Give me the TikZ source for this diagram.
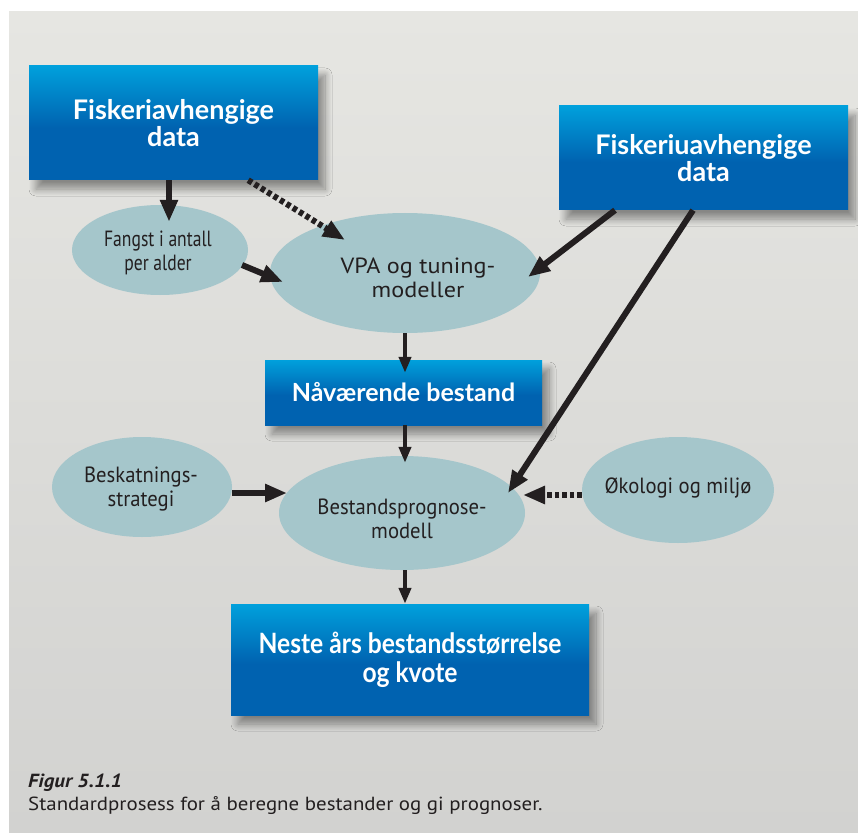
\documentclass[tikz,border=0pt]{standalone}
\usepackage{fontspec}
\setmainfont{Lato}
\newfontfamily\condfont{PT Sans}[FakeStretch=0.8]
\newfontfamily\midfont{PT Sans}[FakeStretch=0.94]
\newfontfamily\widefont{PT Sans}[FakeStretch=1.1]
\newfontfamily\capfont{PT Sans}[FakeStretch=1.1]
\newfontfamily\boxcond{Lato}[FakeStretch=0.88]
\usetikzlibrary{arrows.meta,shapes.geometric,calc,shadows.blur}
\definecolor{bgtop}{HTML}{E6E6E2}
\definecolor{bgbot}{HTML}{D2D2D0}
\definecolor{blight}{HTML}{00A0DC}
\definecolor{bdark}{HTML}{0062B0}
\definecolor{ellc}{HTML}{A5C6CB}
\definecolor{ink}{HTML}{231F20}
\pgfdeclareverticalshading{boxshade}{100bp}{color(0bp)=(bdark); color(48bp)=(bdark); color(75bp)=(blight); color(100bp)=(blight)}
\tikzset{
  bluebox/.style={rectangle, shading=boxshade, inner sep=0pt, align=center,
    text=white, font=\bfseries\fontsize{27}{27}\selectfont,
    blur shadow={shadow xshift=7pt, shadow yshift=-9pt, shadow blur radius=7pt, shadow blur steps=12, shadow opacity=40}},
  ell/.style={ellipse, fill=ellc, inner sep=0pt, align=center, text=ink,
    font=\midfont\fontsize{22}{24}\selectfont},
  elltext/.style={inner sep=0pt, align=center, text=ink, font=\midfont\fontsize{22}{24}\selectfont},
  arr/.style={draw=ink, line width=6pt, -{Triangle[length=22pt,width=17pt]}},
  arrthin/.style={draw=ink, line width=4pt, -{Triangle[length=16pt,width=12pt]}},
  dotarr/.style={draw=ink, line width=6pt, dash pattern=on 4.5pt off 3pt, -{Triangle[length=22pt,width=17pt]}},
}
\begin{document}
\begin{tikzpicture}[x=1pt,y=-1pt]
\useasboundingbox (0,0) rectangle (858,834);
\fill[white] (0,0) rectangle (858,834);
\shade[top color=bgtop, bottom color=bgbot] (9,12) rectangle (858,832);

% ellipses
\node[ell, minimum width=176pt, minimum height=90pt] (F) at (160,250) {};
\node[ell, minimum width=270pt, minimum height=120pt] (V) at (405,273) {};
\node[ell, minimum width=180pt, minimum height=100pt] (S) at (142,487) {};
\node[ell, minimum width=246pt, minimum height=114pt] (P) at (402,513) {};
\node[ell, minimum width=192pt, minimum height=106pt] (O) at (678,490) {};
\node[elltext, font=\condfont\fontsize{22}{24}\selectfont] (Ft) at (158,253) {Fangst i antall\\per alder};
\node[elltext, font=\widefont\fontsize{22}{24}\selectfont] (Vt) at (418,278) {VPA og tuning-\\modeller};
\node[elltext] (St) at (141,489.5) {Beskatnings-\\strategi};
\node[elltext] (Pt) at (402,519) {Bestandsprognose-\\modell};
\node[elltext] (Ot) at (678,488) {Økologi og miljø};

% boxes
\node[bluebox, minimum width=289pt, minimum height=114pt] (A) at (173.5,123) {Fiskeriavhengige\\data};
\node[bluebox, minimum width=289pt, minimum height=104pt] (B) at (703.5,158) {Fiskeriuavhengige\\data};
\node[bluebox, minimum width=277pt, minimum height=65pt, font=\bfseries\fontsize{25}{26}\selectfont] (N) at (403.5,392.5) {Nåværende bestand};
\node[bluebox, minimum width=358pt, minimum height=111pt, font=\boxcond\bfseries\fontsize{28}{29}\selectfont] (Q) at (410,659.5) {Neste års bestandsstørrelse\\og kvote};

% connectors
\draw[arr] ([xshift=-4.5pt]A.south) -- ([xshift=9pt,yshift=-17pt]F.north);
\draw[dotarr] ([xshift=-70pt]A.south east) -- ([shift={(-60pt,33pt)}]V.center);
\draw[arr] ([shift={(82pt,-15pt)}]F.center) -- ([shift={(-122pt,-9pt)}]V.center);
\draw[arr] ([xshift=-88.5pt]B.south) -- ([shift={(123pt,-4pt)}]V.center);
\draw[arr] ([xshift=-10.5pt]B.south) -- ([shift={(106pt,20pt)}]P.center);
\draw[arrthin] (V.south) -- ($(V.south |- N.north)+(0,13)$);
\draw[arrthin] (N.south -| V.south) -- ($(V.south |- P.north)+(0,7)$);
\draw[arr] ([yshift=-6pt]S.east) -- ([shift={(-115pt,20pt)}]P.center);
\draw[dotarr] ([yshift=-5pt]O.west) -- ([shift={(121pt,18pt)}]P.center);
\draw[arrthin] (P.south -| V.south) -- (Q.north -| V.south);

% caption
\node[anchor=base west, inner sep=0pt, text=ink, font=\capfont\bfseries\itshape\fontsize{19}{22}\selectfont] (cap1) at (28,787) {Figur 5.1.1};
\node[anchor=base west, inner sep=0pt, text=ink, font=\capfont\fontsize{19}{22}\selectfont] (cap2) at (28,810) {Standardprosess for å beregne bestander og gi prognoser.};
\end{tikzpicture}
\end{document}
